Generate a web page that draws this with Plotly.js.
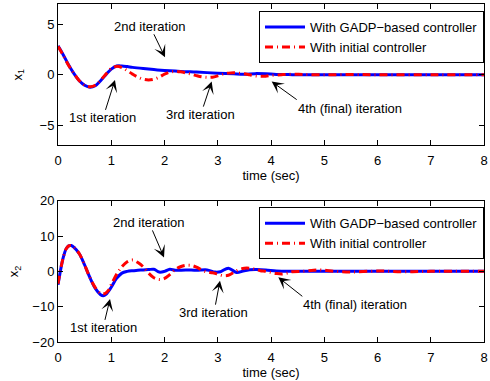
<!DOCTYPE html>
<html>
<head>
<meta charset="utf-8">
<script src="https://cdn.plot.ly/plotly-3.0.1.min.js"></script>
<style>html,body{margin:0;padding:0;background:#fff;}#chart{width:490px;height:381px;}</style>
</head>
<body>
<div id="chart"></div>
<script>
// ---- data ----
const seriesNames = ["With GADP\u2212based controller", "With initial controller"];

// x1, GADP-based controller
const t1Gadp = [0,0.1,0.2,0.3,0.4,0.5,0.6,0.7,0.8,0.9,1.0,1.1,1.2,1.3,1.4,1.6,1.8,2.0,2.3,2.6,3.0,3.3,3.5,3.7,3.9,4.1,4.4,5,6,7,8];
const x1Gadp = [2.85,1.95,0.95,0.1,-0.6,-1.05,-1.25,-1.1,-0.6,0.0,0.55,0.85,0.86,0.8,0.72,0.6,0.5,0.42,0.32,0.25,0.15,0.08,0.05,0.1,0.08,0.02,0,0,0,0,0];

// x1, initial controller
const t1Init = [0,0.1,0.2,0.3,0.4,0.5,0.6,0.7,0.8,0.9,1.0,1.1,
  1.2,1.3,1.4,1.5,1.6,1.7,1.8,1.9,2.0,2.1,2.2,2.3,2.4,2.5,2.6,2.7,2.8,2.9,3.0,3.1,3.2,3.3,3.4,3.5,3.6,3.7,3.8,3.9,4.0,
  4.2,4.4,4.6,5.0,5.5,6,7,8];
const x1Init = [2.8,1.9,0.9,0.1,-0.6,-1.05,-1.2,-1.05,-0.55,0.05,0.6,0.82,
  0.7,0.4,0.05,-0.25,-0.45,-0.52,-0.45,-0.25,0.05,0.25,0.32,0.28,0.18,0.05,-0.1,-0.22,-0.27,-0.25,-0.12,0.05,0.15,0.18,0.15,0.08,-0.02,-0.12,-0.17,-0.15,-0.08,
  0.0,0.05,0.02,-0.02,0.02,-0.02,0,0];

// x2, GADP-based controller
const t2Gadp = [0,0.05,0.1,0.15,0.2,0.25,0.3,0.4,0.5,0.6,0.7,0.8,0.85,0.9,1.0,1.1,1.2,1.3,1.4,1.5,1.6,1.7,1.8,1.9,2.0,2.1,2.2,2.4,2.6,2.8,2.95,3.05,3.2,3.35,3.5,3.7,3.9,4.1,4.4,5,6,7,8];
const x2Gadp = [-3.8,0.5,4.0,6.3,7.2,7.3,6.8,5.0,1.8,-1.8,-4.8,-6.6,-6.9,-6.5,-4.5,-2.0,-0.5,0.0,0.2,0.3,0.4,0.5,0.6,-0.2,0.0,0.6,0.3,0.4,0.3,0.4,-0.2,-0.1,0.9,-0.3,0.2,0.5,0.4,0.1,0,0,0,0,0];

// x2, initial controller
const t2Init = [0,0.05,0.1,0.15,0.2,0.25,0.3,0.4,0.5,0.6,0.7,0.8,0.88,0.95,
  1.0,1.1,1.2,1.3,1.4,1.5,1.6,1.7,1.8,1.9,2.0,2.1,2.2,2.3,2.4,2.5,2.6,2.7,2.8,2.9,3.0,3.1,3.2,3.3,3.4,3.5,3.6,3.7,3.8,3.9,4.0,4.1,4.2,4.3,4.4,
  4.6,4.8,4.95,5.2,5.5,6,6.5,7,8];
const x2Init = [-3.5,0.7,4.0,6.3,7.2,7.3,6.8,5.0,1.8,-1.8,-4.6,-6.2,-6.3,-5.3,
  -3.8,-0.8,1.3,2.7,3.2,2.5,1.3,-0.5,-1.8,-2.3,-2.0,-0.9,0.5,1.3,1.7,1.7,1.2,0.4,-0.2,-0.4,-0.8,-1.2,-1.1,-0.3,0.5,0.9,0.9,0.6,0.2,0.0,-0.3,-0.6,-0.75,-0.5,-0.1,
  0.0,0.3,0.4,0.0,-0.2,0.1,-0.1,0,0];

const xTicks = [0,1,2,3,4,5,6,7,8];
const y1Ticks = [-5,0,5];
const y2Ticks = [-20,-10,0,10,20];
const annotationLabels = ["1st iteration","2nd iteration","3rd iteration","4th (final) iteration"];

// ---- styles ----
const FONT = "Liberation Sans, Arial, Helvetica, sans-serif";
const blueLine = {color:"#0000ff", width:3};
const redLine = {color:"#ff0000", width:3, dash:"8px,4px,1px,4px"};

const traces = [
  {x:t1Gadp, y:x1Gadp, xaxis:"x", yaxis:"y", mode:"lines", name:seriesNames[0], line:Object.assign({shape:"spline"}, blueLine), legend:"legend"},
  {x:t1Init, y:x1Init, xaxis:"x", yaxis:"y", mode:"lines", name:seriesNames[1], line:Object.assign({shape:"spline"}, redLine), legend:"legend"},
  {x:t2Gadp, y:x2Gadp, xaxis:"x2", yaxis:"y2", mode:"lines", name:seriesNames[0], line:Object.assign({shape:"spline"}, blueLine), legend:"legend2"},
  {x:t2Init, y:x2Init, xaxis:"x2", yaxis:"y2", mode:"lines", name:seriesNames[1], line:Object.assign({shape:"spline"}, redLine), legend:"legend2"}
];

function axisBase(extra){
  return Object.assign({
    showline:true, linecolor:"#000", linewidth:1, mirror:"ticks",
    ticks:"inside", ticklen:5, tickwidth:1, tickcolor:"#000",
    showgrid:false, zeroline:false, automargin:false,
    tickfont:{family:FONT, size:13, color:"#000"}
  }, extra);
}

// text label with an arrow pointing at (x, y); (ax, ay) = pixel offset of the label from the tip
function callout(xref, yref, x, y, ax, ay, txt, xanchor, yanchor){
  return {xref:xref, yref:yref, x:x, y:y, ax:ax, ay:ay, text:txt, showarrow:true,
          xanchor:xanchor||"auto", yanchor:yanchor||"auto", borderpad:0,
          arrowhead:3, arrowsize:2, arrowwidth:1, arrowcolor:"#000",
          font:{family:FONT, size:13, color:"#000"}};
}

const legendStyle = {
  x:1, xanchor:"right", yanchor:"top",
  bgcolor:"#fff", bordercolor:"#000", borderwidth:1,
  font:{family:FONT, size:13, color:"#000"},
  tracegroupgap:0, itemwidth:40
};

const layout = {
  width:490, height:381,
  margin:{l:58, r:6, t:4, b:39},
  paper_bgcolor:"#fff", plot_bgcolor:"#fff",
  font:{family:FONT, size:13, color:"#000"},
  showlegend:true,
  legend:Object.assign({y:0.979}, legendStyle),
  legend2:Object.assign({y:0.3985}, legendStyle),
  xaxis:axisBase({domain:[0,1], anchor:"y", range:[0,8], tickvals:xTicks, ticklabelstandoff:3,
    title:{text:"time (sec)", font:{family:FONT, size:13, color:"#000"}, standoff:0}}),
  yaxis:axisBase({domain:[0.582,1], anchor:"x", range:[-7,7], tickvals:y1Ticks,
    title:{text:"x<sub>1</sub>", font:{family:FONT, size:13, color:"#000"}, standoff:14}}),
  xaxis2:axisBase({domain:[0,1], anchor:"y2", range:[0,8], tickvals:xTicks, ticklabelstandoff:3,
    title:{text:"time (sec)", font:{family:FONT, size:13, color:"#000"}, standoff:0}}),
  yaxis2:axisBase({domain:[0,0.418], anchor:"x2", range:[-20,20], tickvals:y2Ticks,
    title:{text:"x<sub>2</sub>", font:{family:FONT, size:13, color:"#000"}, standoff:10}}),
  annotations:[
    // top panel
    callout("x","y",2.01,1.72,-15,-31,annotationLabels[1]),
    callout("x","y",1.07,-0.52,-12,38,annotationLabels[0]),
    callout("x","y",2.886,-0.69,-11,33,annotationLabels[2]),
    callout("x","y",4.013,-0.69,25,18,annotationLabels[3],"left","top"),
    // bottom panel
    callout("x2","y2",1.991,3.95,-15,-35,annotationLabels[1]),
    callout("x2","y2",0.977,-7.8,-7,29,annotationLabels[0]),
    callout("x2","y2",3.042,-2.63,-6,32,annotationLabels[2]),
    callout("x2","y2",4.137,-1.69,24,19,annotationLabels[3],"left","top")
  ]
};

Plotly.newPlot("chart", traces, layout, {staticPlot:true, displayModeBar:false});
</script>
</body>
</html>
